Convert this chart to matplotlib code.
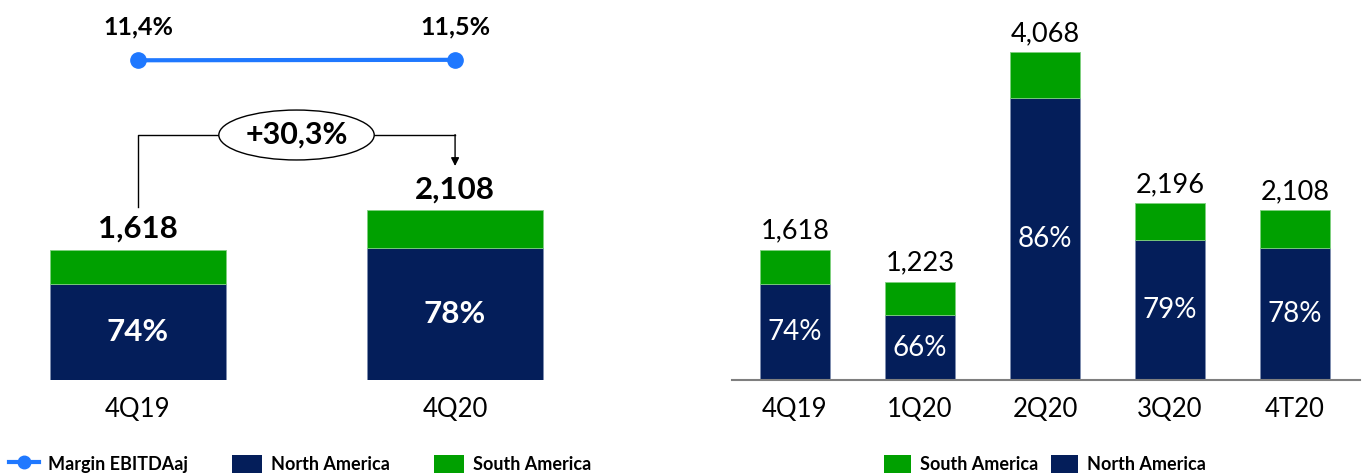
import matplotlib.pyplot as plt
import numpy as np
from matplotlib.lines import Line2D
from matplotlib.patches import Patch, Ellipse

# DATA
YOY_QUARTERS = ['4Q19', '4Q20']
YOY_TOTALS = [1618, 2108]
YOY_NA_SHARE = [0.74, 0.78]
YOY_MARGIN = [11.4, 11.5]
YOY_MARGIN_LABELS = ['11,4%', '11,5%']
YOY_GROWTH_LABEL = '+30,3%'

QUARTERS = ['4Q19', '1Q20', '2Q20', '3Q20', '4T20']
TOTALS = [1618, 1223, 4068, 2196, 2108]
NA_SHARE = [0.74, 0.66, 0.86, 0.79, 0.78]

# STYLE
NAVY = '#041E5A'
GREEN = '#00A000'
BLUE = '#1F78FF'
FONT = 'Lato'
YMAX = 4720

plt.rcParams['font.family'] = [FONT, 'DejaVu Sans']

W, H = 1363, 475
fig = plt.figure(figsize=(W / 100, H / 100), dpi=100)


def px_axes(left, top, right, bottom):
    # axes from pixel box (top-left origin)
    return fig.add_axes([left / W, 1 - bottom / H, (right - left) / W, (bottom - top) / H])


def clean(ax):
    for side in ['left', 'right', 'top', 'bottom']:
        ax.spines[side].set_visible(False)
    ax.set_yticks([])
    ax.tick_params(axis='x', length=0)


def stacked(ax, totals, shares, width):
    x = np.arange(len(totals))
    totals = np.array(totals, dtype=float)
    north = totals * np.array(shares)
    south = totals - north
    ax.bar(x, north, width, color=NAVY, edgecolor='#7f8fb0', linewidth=0.6)
    ax.bar(x, south, width, bottom=north, color=GREEN, edgecolor='#7fcf7f', linewidth=0.6)
    return x, north


# Left panel: 4Q19 vs 4Q20
ax1 = px_axes(0, 0, 600, 380)
clean(ax1)
ax1.set_xlim(-0.435, 1.457)
ax1.set_ylim(0, YMAX)
x1, north1 = stacked(ax1, YOY_TOTALS, YOY_NA_SHARE, 0.555)
ax1.set_xticks(x1, YOY_QUARTERS, fontsize=18.5)
ax1.tick_params(axis='x', pad=12)
for xi, tot, nv, share in zip(x1, YOY_TOTALS, north1, YOY_NA_SHARE):
    ax1.annotate(f'{tot:,}', (xi, tot), xytext=(0, 7), textcoords='offset pixels',
                 ha='center', va='bottom', fontsize=22.5, fontweight='bold')
    ax1.text(xi, nv / 2, f'{share:.0%}', ha='center', va='center',
             color='white', fontsize=22.5, fontweight='bold')

# growth bracket with ellipse label
bracket_y = 3043
ax1.plot([x1[0], x1[0], x1[1]], [YOY_TOTALS[0] + 530, bracket_y, bracket_y],
         color='black', lw=1)
ax1.annotate('', xy=(x1[1], YOY_TOTALS[1] + 550), xytext=(x1[1], bracket_y + 5),
             arrowprops=dict(arrowstyle='-|>', color='black', lw=1,
                             mutation_scale=12, shrinkA=0, shrinkB=0))
mid = (x1[0] + x1[1]) / 2
ax1.add_patch(Ellipse((mid, bracket_y), 0.49, 620, facecolor='white',
                      edgecolor='black', lw=1, zorder=3))
ax1.text(mid, bracket_y, YOY_GROWTH_LABEL, ha='center', va='center',
         fontsize=22, fontweight='bold', zorder=4)

# margin line on a twin axis
ax1m = ax1.twinx()
clean(ax1m)
ax1m.set_ylim(-60, 24.86)
ax1m.plot(x1, YOY_MARGIN, color=BLUE, lw=3, marker='o', markersize=11)
for xi, m, lab in zip(x1, YOY_MARGIN, YOY_MARGIN_LABELS):
    ax1m.annotate(lab, (xi, m), xytext=(0, 33), textcoords='offset pixels',
                  ha='center', va='center', fontsize=18, fontweight='bold')

# Right panel: quarterly evolution
ax2 = px_axes(732, 0, 1360, 380)
clean(ax2)
ax2.spines['bottom'].set_visible(True)
ax2.spines['bottom'].set_color('#7f7f7f')
ax2.spines['bottom'].set_linewidth(1.5)
ax2.set_xlim(-0.504, 4.52)
ax2.set_ylim(0, YMAX)
x2, north2 = stacked(ax2, TOTALS, NA_SHARE, 0.56)
ax2.set_xticks(x2, QUARTERS, fontsize=18.5)
ax2.tick_params(axis='x', pad=12)
for xi, tot, nv, share in zip(x2, TOTALS, north2, NA_SHARE):
    ax2.annotate(f'{tot:,}', (xi, tot), xytext=(0, 6), textcoords='offset pixels',
                 ha='center', va='bottom', fontsize=19.5)
    ax2.text(xi, nv / 2, f'{share:.0%}', ha='center', va='center',
             color='white', fontsize=20)

# Legends
leg_font = dict(size=13, weight='bold', family=FONT)
left_handles = [
    Line2D([], [], color=BLUE, lw=3, marker='o', markersize=9),
    Patch(facecolor=NAVY),
    Patch(facecolor=GREEN),
]
fig.legend(left_handles, ['Margin EBITDAaj', 'North America', 'South America'],
           loc='center', bbox_to_anchor=(300 / W, 1 - 464 / H), ncol=3,
           frameon=False, prop=leg_font, handlelength=1.7, handleheight=1.2,
           columnspacing=2.4, handletextpad=0.5)
right_handles = [Patch(facecolor=GREEN), Patch(facecolor=NAVY)]
fig.legend(right_handles, ['South America', 'North America'],
           loc='center', bbox_to_anchor=(1045 / W, 1 - 464 / H), ncol=2,
           frameon=False, prop=leg_font, handlelength=1.5, handleheight=1.2,
           columnspacing=0.7, handletextpad=0.5)

plt.savefig('out.png', dpi=100)
